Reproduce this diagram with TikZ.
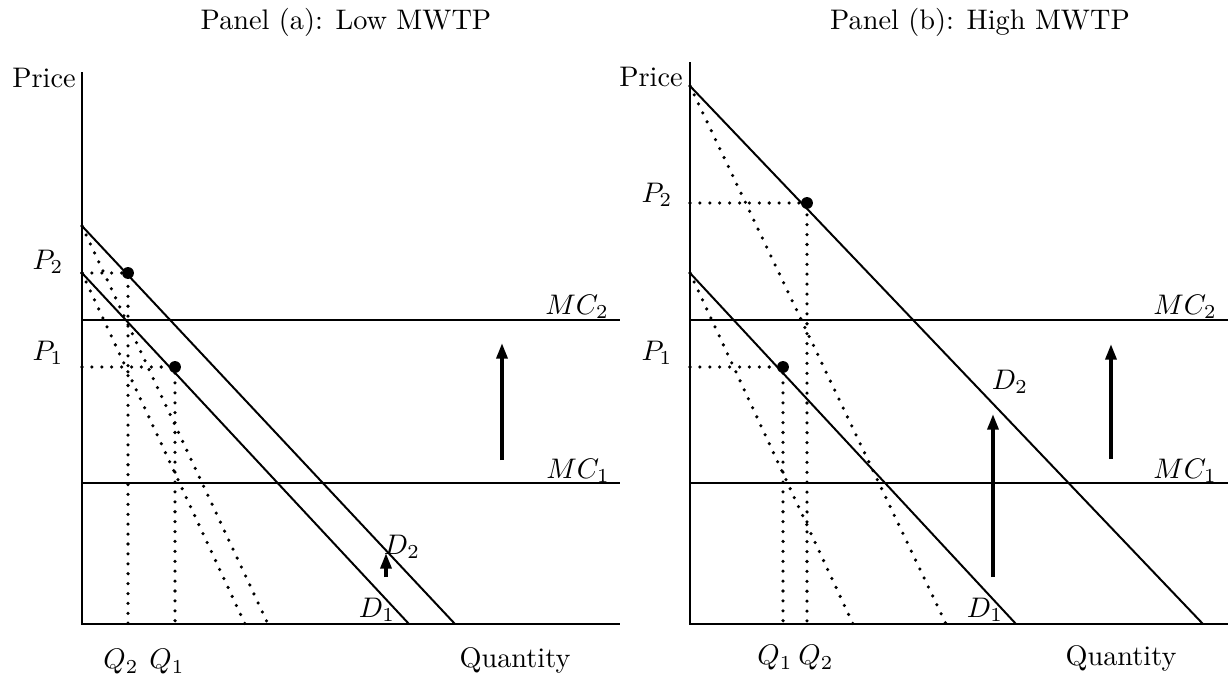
\documentclass[tikz,border=0pt]{standalone}
\usetikzlibrary{arrows.meta}
\begin{document}
\begin{tikzpicture}[x=0.3533pt,y=-0.3533pt,
  axisline/.style={line width=0.75pt},
  demand/.style={line width=0.7pt},
  mcline/.style={line width=0.75pt},
  guide/.style={line width=1.25pt,dash pattern=on 0pt off 3.5pt,line cap=round},
  shiftarrow/.style={line width=1.3pt,-{Triangle[length=5.5pt,width=3.8pt]}},
  eqdot/.style={circle,fill=black,inner sep=0pt,minimum size=4.2pt},
  lbl/.style={inner sep=0pt}]
\useasboundingbox (0,0) rectangle (1229,681);

% ---------- Panel (a) ----------
\node[lbl] (ta) at (346,22) {Panel (a): Low MWTP};
\coordinate (Oa) at (82,624);
\coordinate (Ya) at (82,72);
\coordinate (Xa) at (620,624);
\draw[axisline] (Ya) -- (Oa) -- (Xa);
\node[lbl] (pricea) at (44,78) {Price};
\node[lbl] (quanta) at (515,660) {Quantity};

\coordinate (mc2aL) at (82,320); \coordinate (mc2aR) at (620,320);
\coordinate (mc1aL) at (82,483); \coordinate (mc1aR) at (620,483);
\draw[mcline] (mc2aL) -- (mc2aR);
\draw[mcline] (mc1aL) -- (mc1aR);
\node[lbl] (MC2a) at (577,307) {$MC_2$};
\node[lbl] (MC1a) at (578,471) {$MC_1$};

\coordinate (d2aT) at (82,226); \coordinate (d2aB) at (455,624);
\coordinate (d1aT) at (82,273); \coordinate (d1aB) at (409,624);
\coordinate (m2aB) at (268,624); \coordinate (m1aB) at (245,624);
\draw[demand] (d2aT) -- (d2aB);
\draw[demand] (d1aT) -- (d1aB);
\draw[guide] (d2aT) -- (m2aB);
\draw[guide] (d1aT) -- (m1aB);

\node[eqdot] (e2a) at (128,273) {};
\node[eqdot] (e1a) at (175,367) {};
\coordinate (p2a) at (82,273); \coordinate (q2a) at (128,624);
\coordinate (p1a) at (82,367); \coordinate (q1a) at (175,624);
\draw[guide] (p2a) -- (e2a.center) -- (q2a);
\draw[guide] (p1a) -- (e1a.center) -- (q1a);
\node[lbl] (P2a) at (48,262) {$P_2$};
\node[lbl] (P1a) at (48,353) {$P_1$};
\node[lbl] (Q2a) at (121,662) {$Q_2$};
\node[lbl] (Q1a) at (167,662) {$Q_1$};
\node[lbl] (D2a) at (402,547) {$D_2$};
\node[lbl] (D1a) at (377,610) {$D_1$};

\coordinate (a1s) at (502,460); \coordinate (a1e) at (502,343);
\coordinate (a2s) at (386,577); \coordinate (a2e) at (386,553);
\draw[shiftarrow] (a1s) -- (a1e);
\draw[shiftarrow] (a2s) -- (a2e);

% ---------- Panel (b) ----------
\node[lbl] (tb) at (980,22) {Panel (b): High MWTP};
\coordinate (Ob) at (690,624);
\coordinate (Yb) at (690,62);
\coordinate (Xb) at (1228,624);
\draw[axisline] (Yb) -- (Ob) -- (Xb);
\node[lbl] (priceb) at (651,77) {Price};
\node[lbl] (quantb) at (1121,658) {Quantity};

\coordinate (mc2bL) at (690,320); \coordinate (mc2bR) at (1228,320);
\coordinate (mc1bL) at (690,483); \coordinate (mc1bR) at (1228,483);
\draw[mcline] (mc2bL) -- (mc2bR);
\draw[mcline] (mc1bL) -- (mc1bR);
\node[lbl] (MC2b) at (1185,307) {$MC_2$};
\node[lbl] (MC1b) at (1185,471) {$MC_1$};

\coordinate (d2bT) at (690,86); \coordinate (d2bB) at (1203,624);
\coordinate (d1bT) at (690,273); \coordinate (d1bB) at (1016,624);
\coordinate (m2bB) at (946,624); \coordinate (m1bB) at (853,624);
\draw[demand] (d2bT) -- (d2bB);
\draw[demand] (d1bT) -- (d1bB);
\draw[guide] (d2bT) -- (m2bB);
\draw[guide] (d1bT) -- (m1bB);

\node[eqdot] (e2b) at (807,203) {};
\node[eqdot] (e1b) at (783,367) {};
\coordinate (p2b) at (690,203); \coordinate (q2b) at (807,624);
\coordinate (p1b) at (690,367); \coordinate (q1b) at (783,624);
\draw[guide] (p2b) -- (e2b.center) -- (q2b);
\draw[guide] (p1b) -- (e1b.center) -- (q1b);
\node[lbl] (P2b) at (657,195) {$P_2$};
\node[lbl] (P1b) at (657,353) {$P_1$};
\node[lbl] (Q1b) at (775,658) {$Q_1$};
\node[lbl] (Q2b) at (816,658) {$Q_2$};
\node[lbl] (D2b) at (1010,382) {$D_2$};
\node[lbl] (D1b) at (985,610) {$D_1$};

\coordinate (b1s) at (993,577); \coordinate (b1e) at (993,414);
\coordinate (b2s) at (1111,459); \coordinate (b2e) at (1111,344);
\draw[shiftarrow] (b1s) -- (b1e);
\draw[shiftarrow] (b2s) -- (b2e);
\end{tikzpicture}
\end{document}
